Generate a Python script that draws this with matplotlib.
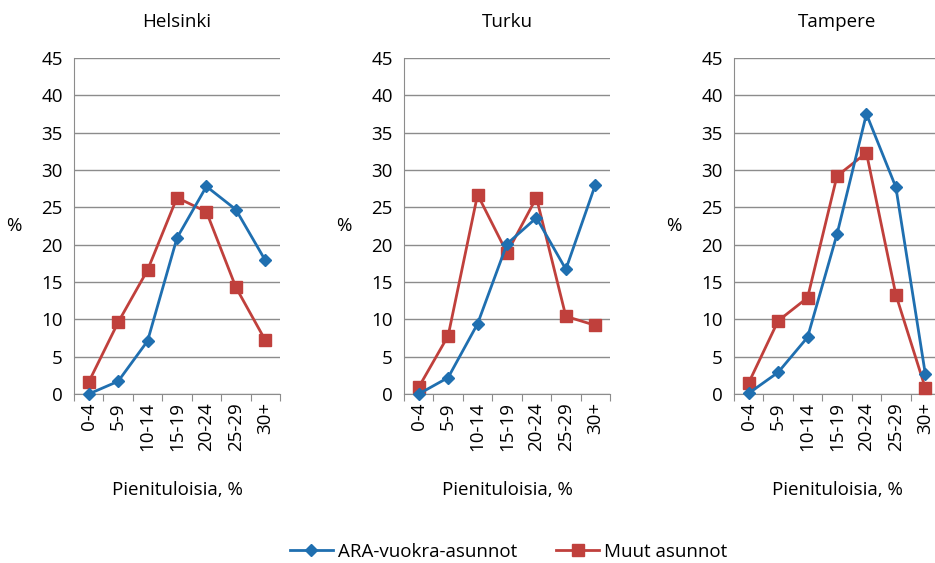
import matplotlib.pyplot as plt

plt.rcParams['font.family'] = ['Open Sans', 'DejaVu Sans']
plt.rcParams['font.size'] = 13.5

categories = ['0-4', '5-9', '10-14', '15-19', '20-24', '25-29', '30+']
cities = ['Helsinki', 'Turku', 'Tampere']

ara = {
    'Helsinki': [0.0, 1.7, 7.1, 20.9, 27.8, 24.7, 17.9],
    'Turku': [0.0, 2.2, 9.4, 20.1, 23.6, 16.7, 28.0],
    'Tampere': [0.1, 2.9, 7.6, 21.4, 37.5, 27.7, 2.7],
}
muut = {
    'Helsinki': [1.6, 9.6, 16.6, 26.3, 24.4, 14.3, 7.2],
    'Turku': [0.9, 7.8, 26.7, 18.9, 26.3, 10.4, 9.2],
    'Tampere': [1.5, 9.8, 12.9, 29.2, 32.3, 13.3, 0.8],
}

blue = '#1f6fb0'
red = '#c0403c'
grid = '#8c8c8c'

fig = plt.figure(figsize=(9.35, 5.63), dpi=100)
lefts = [74, 404, 734]

for city, left in zip(cities, lefts):
    ax = fig.add_axes([left / 935, 169 / 563, 206 / 935, 336 / 563])
    x = range(len(categories))
    l1, = ax.plot(x, ara[city], color=blue, lw=2, marker='D', ms=6,
                  label='ARA-vuokra-asunnot', clip_on=False, zorder=4)
    l2, = ax.plot(x, muut[city], color=red, lw=2, marker='s', ms=9,
                  label='Muut asunnot', clip_on=False, zorder=3)
    ax.set_xlim(-0.5, 6.5)
    ax.set_ylim(0, 45)
    ax.set_yticks(range(0, 46, 5))
    ax.yaxis.grid(True, color=grid, lw=1)
    ax.set_axisbelow(True)
    ax.tick_params(axis='y', length=0, pad=8)
    # category boundaries get tick marks, labels sit between them
    ax.set_xticks([i - 0.5 for i in range(8)])
    ax.set_xticklabels([])
    ax.set_xticks(list(x), minor=True)
    ax.set_xticklabels(categories, minor=True, rotation=90)
    ax.tick_params(axis='x', which='major', length=5, color=grid, direction='out')
    ax.tick_params(axis='x', which='minor', length=0, pad=6)
    for s in ['top', 'right']:
        ax.spines[s].set_visible(False)
    ax.spines['left'].set_color(grid)
    ax.spines['bottom'].set_color(grid)
    ax.set_title(city, fontsize=13.5, pad=22)
    ax.text(-0.29, 0.5, '%', transform=ax.transAxes, ha='center', va='center')
    ax.text(0.5, -0.286, 'Pienituloisia, %', transform=ax.transAxes,
            ha='center', va='center')

fig.legend([l1, l2], ['ARA-vuokra-asunnot', 'Muut asunnot'], loc='center',
           bbox_to_anchor=(0.544, 0.02), ncol=2, frameon=False,
           handlelength=2.3, handletextpad=0.25, columnspacing=2.1)

fig.savefig('out.png', dpi=100)
